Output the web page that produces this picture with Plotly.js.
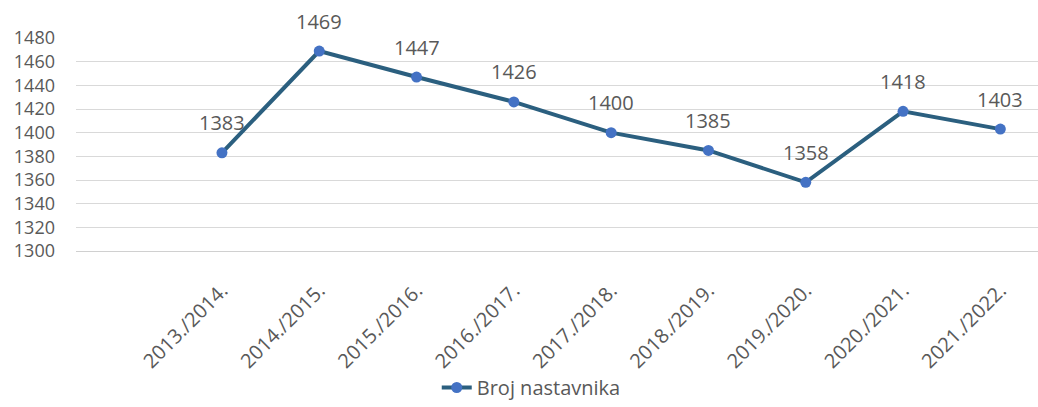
<!DOCTYPE html>
<html>
<head>
<meta charset="utf-8">
<script src="https://cdn.plot.ly/plotly-3.0.1.min.js"></script>
<style>
html,body{margin:0;padding:0;background:#fff;overflow:hidden;}
#chart{width:1038px;height:407px;}
</style>
</head>
<body>
<div id="chart"></div>
<script>
const categories = ["2013./2014.","2014./2015.","2015./2016.","2016./2017.","2017./2018.","2018./2019.","2019./2020.","2020./2021.","2021./2022."];
const values = [1383,1469,1447,1426,1400,1385,1358,1418,1403];
const seriesName = "Broj nastavnika";
const yTicks = [1300,1320,1340,1360,1380,1400,1420,1440,1460,1480];

const fontFam = "'Open Sans', 'Noto Sans', sans-serif";
const textColor = "#595959";

const trace = {
  x: categories,
  y: values,
  type: "scatter",
  mode: "lines+markers",
  name: seriesName,
  line: {color: "#2B5F7F", width: 4},
  marker: {color: "#4472C4", size: 11},
  showlegend: true
};

const annotations = categories.map((c, i) => ({
  x: c, y: values[i], xref: "x", yref: "y",
  text: String(values[i]), showarrow: false,
  yshift: 30,
  font: {family: fontFam, size: 20, color: textColor}
}));

const layout = {
  width: 1038, height: 407,
  margin: {l: 76, r: 0, t: 38, b: 156},
  paper_bgcolor: "#ffffff",
  plot_bgcolor: "#ffffff",
  font: {family: fontFam, size: 19, color: textColor},
  xaxis: {
    type: "category",
    range: [-1.5, 8.387],
    showgrid: false,
    showline: true,
    linecolor: "#D0D0D0",
    linewidth: 1,
    tickangle: -45,
    ticks: "",
    ticklabelstandoff: 19,
    tickfont: {family: fontFam, size: 20, color: textColor},
    zeroline: false
  },
  yaxis: {
    range: [1300, 1480],
    tickvals: yTicks,
    ticktext: yTicks.map(String),
    showgrid: true,
    gridcolor: "#D9D9D9",
    gridwidth: 1,
    showline: false,
    zeroline: false,
    ticks: "",
    ticklabelstandoff: 20,
    tickfont: {family: fontFam, size: 18, color: textColor}
  },
  showlegend: true,
  legend: {
    orientation: "h",
    x: 0.375, xanchor: "left",
    yref: "container",
    y: -0.02, yanchor: "bottom",
    font: {family: fontFam, size: 20, color: textColor},
    bgcolor: "rgba(0,0,0,0)"
  },
  annotations: annotations
};

Plotly.newPlot("chart", [trace], layout, {displayModeBar: false, staticPlot: true});
</script>
</body>
</html>
